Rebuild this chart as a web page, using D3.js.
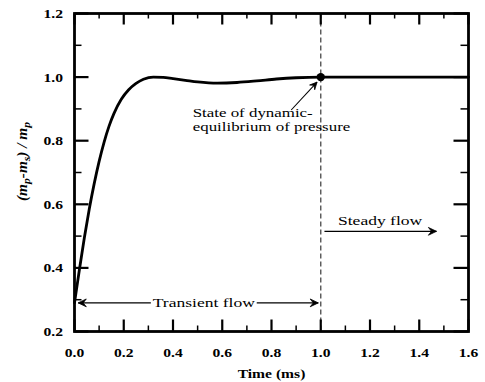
<!DOCTYPE html>
<html><head><meta charset="utf-8">
<script src="https://cdn.jsdelivr.net/npm/d3@7"></script>
<style>html,body{margin:0;padding:0;background:#fff;}svg{display:block;}</style>
</head><body>
<svg id="chart" width="485" height="382"></svg>
<script>
// ---- data ----
const time  = [0, 0.02, 0.04, 0.06, 0.08, 0.10, 0.12, 0.14, 0.16, 0.19, 0.22, 0.25, 0.28, 0.32, 0.36, 0.40, 0.45, 0.50, 0.58, 0.66, 0.74, 0.82, 0.90, 1.00, 1.20, 1.60];
const ratio = [0.29, 0.395, 0.495, 0.585, 0.665, 0.735, 0.795, 0.845, 0.885, 0.93, 0.96, 0.98, 0.993, 1.00, 0.999, 0.995, 0.99, 0.985, 0.981, 0.983, 0.988, 0.994, 0.998, 1.00, 1.00, 1.00];
const xMajor = [0, 0.2, 0.4, 0.6, 0.8, 1.0, 1.2, 1.4, 1.6];
const xTickLabels = ["0.0","0.2","0.4","0.6","0.8","1.0","1.2","1.4","1.6"];
const xMinor = [0.1, 0.3, 0.5, 0.7, 0.9, 1.1, 1.3, 1.5];
const yMajor = [0.2, 0.4, 0.6, 0.8, 1.0, 1.2];
const yTickLabels = ["0.2","0.4","0.6","0.8","1.0","1.2"];
const yMinor = [0.3, 0.5, 0.7, 0.9, 1.1];
const eqPoint = [1.0, 1.0];

const SX = 1.3; // horizontal text stretch
const svg = d3.select("#chart");
const x = d3.scaleLinear().domain([0, 1.6]).range([74.5, 468.5]);
const y = d3.scaleLinear().domain([0.2, 1.2]).range([331.5, 13.5]);

const serif = "'Liberation Serif','Times New Roman',serif";

function stext(px, py, str, opts) {
  return svg.append("text")
    .attr("transform", `translate(${px},${py}) scale(${SX},1)`)
    .attr("font-family", serif)
    .attr("font-size", opts.size)
    .attr("font-weight", opts.weight || "normal")
    .attr("text-anchor", opts.anchor || "start")
    .attr("fill", "#000")
    .text(str);
}

// dashed line at 1.0 ms
svg.append("line")
  .attr("x1", x(1.0)).attr("x2", x(1.0))
  .attr("y1", y(1.2)).attr("y2", y(0.2))
  .attr("stroke", "#555").attr("stroke-width", 1.4)
  .attr("stroke-dasharray", "5,3");

// ticks
const g = svg.append("g").attr("stroke", "#000");
xMajor.forEach(v => {
  g.append("line").attr("x1", x(v)).attr("x2", x(v)).attr("y1", y(0.2)).attr("y2", y(0.2) - 12).attr("stroke-width", 2.2);
  g.append("line").attr("x1", x(v)).attr("x2", x(v)).attr("y1", y(1.2)).attr("y2", y(1.2) + 11).attr("stroke-width", 2.2);
});
xMinor.forEach(v => {
  g.append("line").attr("x1", x(v)).attr("x2", x(v)).attr("y1", y(0.2)).attr("y2", y(0.2) - 6).attr("stroke-width", 1.5);
  g.append("line").attr("x1", x(v)).attr("x2", x(v)).attr("y1", y(1.2)).attr("y2", y(1.2) + 5).attr("stroke-width", 1.5);
});
yMajor.forEach(v => {
  g.append("line").attr("x1", x(0)).attr("x2", x(0) + 14).attr("y1", y(v)).attr("y2", y(v)).attr("stroke-width", 2.2);
  g.append("line").attr("x1", x(1.6)).attr("x2", x(1.6) - 15).attr("y1", y(v)).attr("y2", y(v)).attr("stroke-width", 2.2);
});
yMinor.forEach(v => {
  g.append("line").attr("x1", x(0)).attr("x2", x(0) + 7).attr("y1", y(v)).attr("y2", y(v)).attr("stroke-width", 1.5);
  g.append("line").attr("x1", x(1.6)).attr("x2", x(1.6) - 8).attr("y1", y(v)).attr("y2", y(v)).attr("stroke-width", 1.5);
});

// frame
svg.append("rect")
  .attr("x", x(0)).attr("y", y(1.2))
  .attr("width", x(1.6) - x(0)).attr("height", y(0.2) - y(1.2))
  .attr("fill", "none").attr("stroke", "#000").attr("stroke-width", 2.8);

// tick labels
xMajor.forEach((v, i) => stext(x(v), 357, xTickLabels[i], {size: 12, weight: "bold", anchor: "middle"}));
yMajor.forEach((v, i) => stext(63, y(v) + 4.5, yTickLabels[i], {size: 12, weight: "bold", anchor: "end"}));

// axis titles
stext(x(0.8), 378, "Time (ms)", {size: 12, weight: "bold", anchor: "middle"});
const yt = svg.append("text")
  .attr("transform", `translate(27,${y(0.7) - 11}) rotate(-90) scale(1.28,1.2)`)
  .attr("font-family", serif).attr("font-size", 12).attr("font-weight", "bold")
  .attr("font-style", "italic").attr("text-anchor", "middle");
yt.append("tspan").text("(m");
yt.append("tspan").attr("baseline-shift", "-25%").attr("font-size", 9).text("p");
yt.append("tspan").text("-m");
yt.append("tspan").attr("baseline-shift", "-25%").attr("font-size", 9).text("s");
yt.append("tspan").text(") / m");
yt.append("tspan").attr("baseline-shift", "-25%").attr("font-size", 9).text("p");

// curve
const pts = time.map((t, i) => [t, ratio[i]]);
svg.append("path")
  .attr("d", d3.line().x(d => x(d[0])).y(d => y(d[1])).curve(d3.curveMonotoneX)(pts))
  .attr("fill", "none").attr("stroke", "#000").attr("stroke-width", 2.8)
  .attr("stroke-linejoin", "round").attr("stroke-linecap", "round");

// equilibrium dot
svg.append("circle").attr("cx", x(eqPoint[0])).attr("cy", y(eqPoint[1])).attr("r", 4.2).attr("fill", "#000");

// arrowheads
function arrowHead(px, py, angle, size) {
  const a = angle, s = size;
  const p1 = [px - s * Math.cos(a - 0.45), py - s * Math.sin(a - 0.45)];
  const p2 = [px - s * Math.cos(a + 0.45), py - s * Math.sin(a + 0.45)];
  const back = [px - s * 0.55 * Math.cos(a), py - s * 0.55 * Math.sin(a)];
  svg.append("path")
    .attr("d", `M${p1[0]},${p1[1]}L${px},${py}L${p2[0]},${p2[1]}L${back[0]},${back[1]}Z`)
    .attr("fill", "#000").attr("stroke", "#000").attr("stroke-width", 0.8).attr("stroke-linejoin", "miter");
}
function line(x1, y1, x2, y2, w) {
  svg.append("line").attr("x1", x1).attr("y1", y1).attr("x2", x2).attr("y2", y2)
    .attr("stroke", "#000").attr("stroke-width", w || 1.3);
}

// annotation: state of dynamic equilibrium
stext(x(0.48), 117, "State of dynamic-", {size: 13});
stext(x(0.48), 131, "equilibrium of pressure", {size: 13});
{
  const ax1 = x(0.88), ay1 = 110, ax2 = x(0.985), ay2 = y(1.0) + 5;
  line(ax1, ay1, ax2, ay2, 1.1);
  arrowHead(ax2, ay2, Math.atan2(ay2 - ay1, ax2 - ax1), 8);
}

// transient flow double arrow
{
  const ay = y(0.29);
  line(x(0.015), ay, x(0.31), ay);
  line(x(0.74), ay, x(0.99), ay);
  arrowHead(x(0.015), ay, Math.PI, 9);
  arrowHead(x(0.99), ay, 0, 9);
  stext(x(0.525), ay + 4.5, "Transient flow", {size: 13.5, anchor: "middle"});
}

// steady flow arrow
{
  const ay = y(0.515);
  line(x(1.015), ay, x(1.47), ay);
  arrowHead(x(1.47), ay, 0, 9);
  stext(x(1.07), ay - 6, "Steady flow", {size: 13.5});
}
</script>
</body></html>
